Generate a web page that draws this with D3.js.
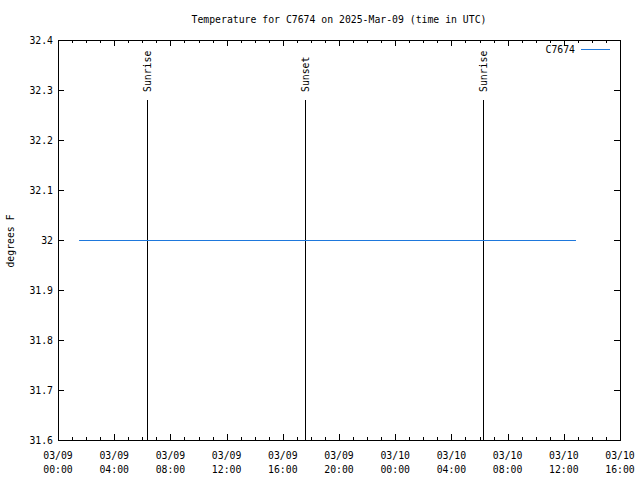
<!DOCTYPE html>
<html><head><meta charset="utf-8">
<script src="https://cdn.jsdelivr.net/npm/d3@7"></script>
<style>
body{margin:0;background:#fff;}
text{font-family:"DejaVu Sans Mono","Liberation Mono",monospace;font-size:9.8px;fill:#000;}
</style></head>
<body><svg id="c" width="640" height="480"></svg>
<script>
const title = "Temperature for C7674 on 2025-Mar-09 (time in UTC)";
const seriesName = "C7674";
const yLabel = "degrees F";
const xDomain = ["2025-03-09T00:00:00Z", "2025-03-10T16:00:00Z"];
const yDomain = [31.6, 32.4];
const yTicks = [31.6, 31.7, 31.8, 31.9, 32, 32.1, 32.2, 32.3, 32.4];
const times = ["2025-03-09T01:30:00Z", "2025-03-10T12:52:00Z"];
const temps = [32, 32];
const eventNames = ["Sunrise", "Sunset", "Sunrise"];
const eventTimes = ["2025-03-09T06:18:00Z", "2025-03-09T17:35:00Z", "2025-03-10T06:17:00Z"];

const svg = d3.select("#c");
const L = 58, R = 620, T = 40, B = 440;
const x = d3.scaleUtc().domain(xDomain.map(d => new Date(d))).range([L, R]);
const y = d3.scaleLinear().domain(yDomain).range([B, T]);
const fmtD = d3.utcFormat("%m/%d"), fmtT = d3.utcFormat("%H:%M");

// frame
svg.append("rect").attr("x", L + 0.5).attr("y", T + 0.5).attr("width", R - L).attr("height", B - T)
  .attr("fill", "none").attr("stroke", "#000").attr("stroke-width", 1);

// x ticks
const majors = d3.utcHour.every(4).range(x.domain()[0], new Date(x.domain()[1].getTime() + 1));
const minors = d3.utcHour.every(1).range(x.domain()[0], new Date(x.domain()[1].getTime() + 1));
const g = svg.append("g").attr("stroke", "#000").attr("stroke-width", 1);
minors.forEach(d => {
  const isMaj = d.getUTCHours() % 4 === 0;
  const len = isMaj ? 6 : 3;
  const px = Math.round(x(d)) + 0.5;
  g.append("line").attr("x1", px).attr("x2", px).attr("y1", B).attr("y2", B - len);
  g.append("line").attr("x1", px).attr("x2", px).attr("y1", T).attr("y2", T + len);
});
majors.forEach(d => {
  const px = x(d);
  svg.append("text").attr("x", px).attr("y", 459).attr("text-anchor", "middle").text(fmtD(d));
  svg.append("text").attr("x", px).attr("y", 473).attr("text-anchor", "middle").text(fmtT(d));
});
// y ticks
yTicks.forEach(v => {
  const py = Math.round(y(v)) + 0.5;
  g.append("line").attr("x1", L).attr("x2", L + 6).attr("y1", py).attr("y2", py);
  g.append("line").attr("x1", R - 6).attr("x2", R).attr("y1", py).attr("y2", py);
  svg.append("text").attr("x", 53).attr("y", py + 3.5).attr("text-anchor", "end").text(d3.format("")(v));
});

// events
eventTimes.forEach((t, i) => {
  const px = Math.round(x(new Date(t))) + 0.5;
  svg.append("line").attr("x1", px).attr("x2", px).attr("y1", B).attr("y2", B - 0.85 * (B - T))
    .attr("stroke", "#000").attr("stroke-width", 1);
  svg.append("text").attr("transform", `translate(${px + 3.5},${B - 0.87 * (B - T)}) rotate(-90)`)
    .attr("text-anchor", "start").text(eventNames[i]);
});

// data line
const line = d3.line().x((d, i) => x(new Date(times[i]))).y(d => Math.round(y(d)) + 0.5);
svg.append("path").datum(temps).attr("d", line).attr("fill", "none")
  .attr("stroke", "#1e78dc").attr("stroke-width", 1);

// legend
svg.append("text").attr("x", 575).attr("y", 53).attr("text-anchor", "end").text(seriesName);
svg.append("line").attr("x1", 581).attr("x2", 610).attr("y1", 49.5).attr("y2", 49.5)
  .attr("stroke", "#1e78dc").attr("stroke-width", 1);

// title & y label
svg.append("text").attr("x", 339).attr("y", 23).attr("text-anchor", "middle").text(title);
svg.append("text").attr("transform", "translate(14,241) rotate(-90)").attr("text-anchor", "middle").text(yLabel);
</script></body></html>
